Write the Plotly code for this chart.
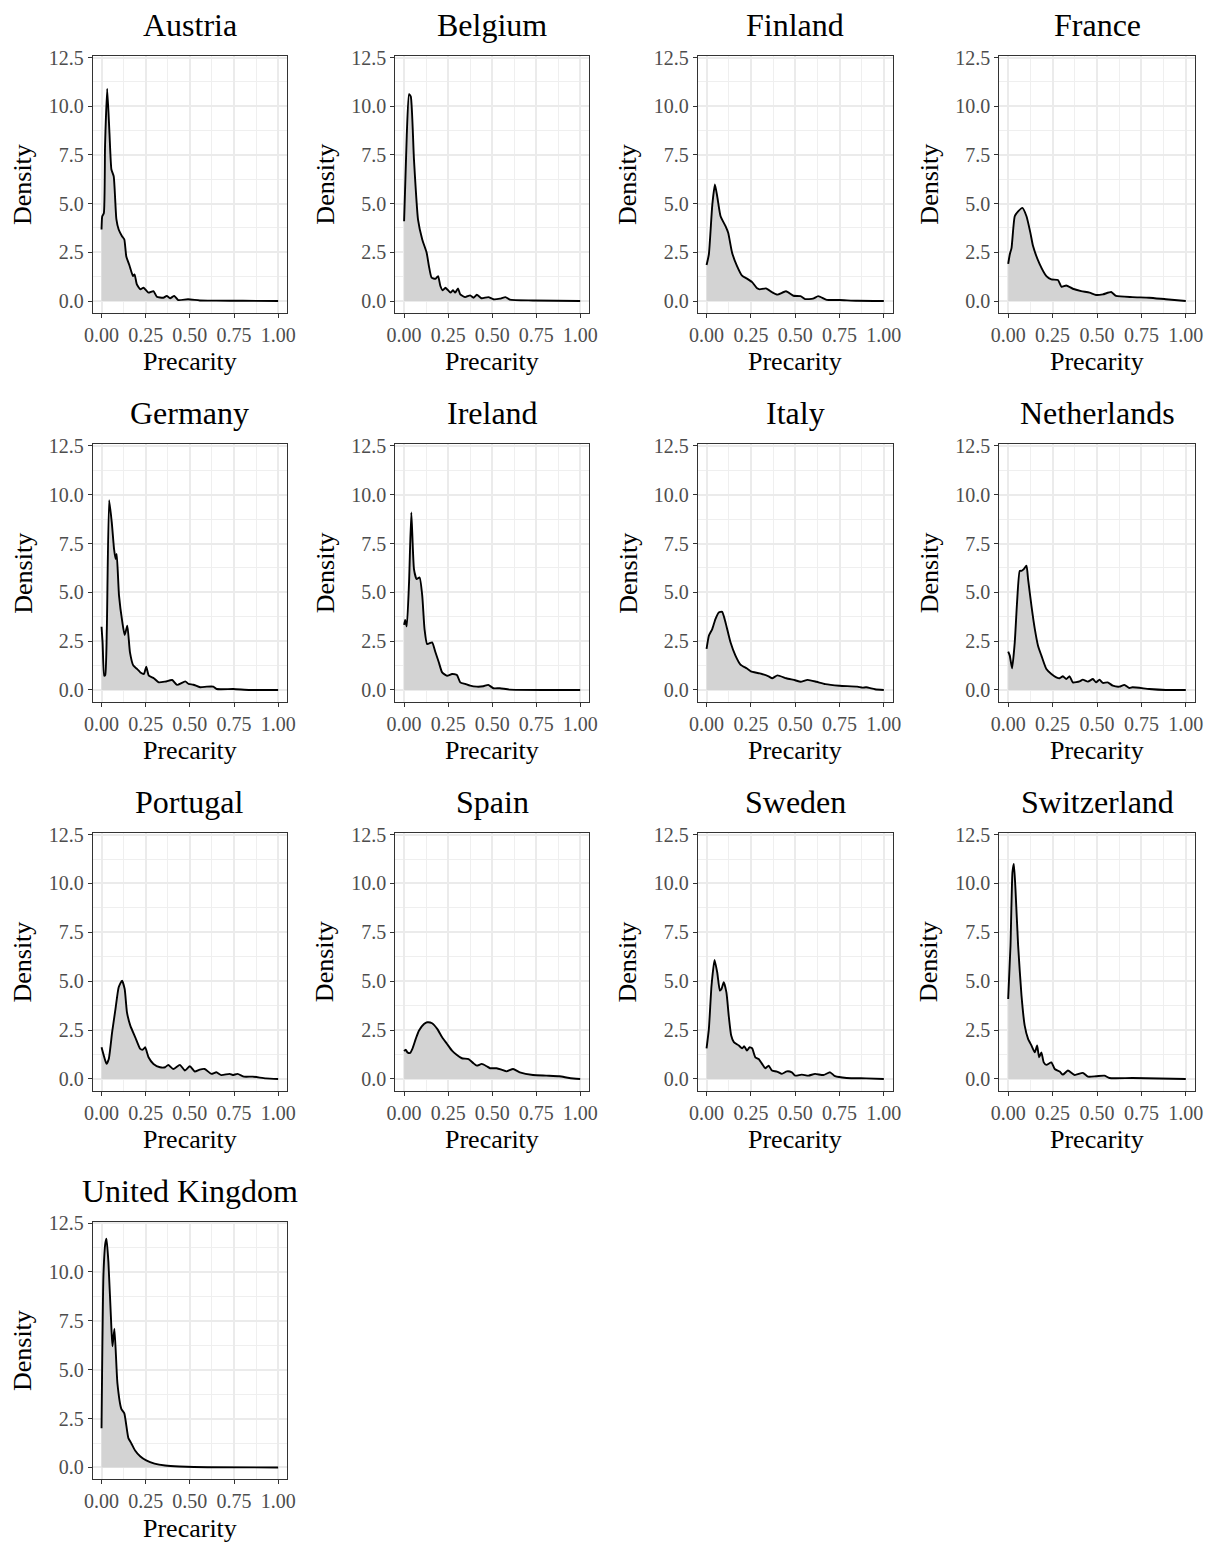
import plotly.graph_objects as go

COUNTRIES = ["Austria", "Belgium", "Finland", "France", "Germany", "Ireland", "Italy",
             "Netherlands", "Portugal", "Spain", "Sweden", "Switzerland", "United Kingdom"]

austria_x = [0.0, 0.004, 0.013, 0.020, 0.032, 0.045, 0.056, 0.069, 0.084, 0.097, 0.116, 0.129, 0.14, 0.159,
             0.178, 0.187, 0.2, 0.22, 0.238, 0.266, 0.294, 0.313, 0.35, 0.369, 0.388, 0.412, 0.434, 0.49,
             0.556, 0.65, 0.8, 1.0]
austria_y = [3.67, 4.35, 4.5, 8.0, 10.9, 8.6, 6.75, 6.4, 4.2, 3.67, 3.33, 3.16, 2.3, 1.8,
             1.28, 1.37, 0.85, 0.6, 0.68, 0.43, 0.51, 0.22, 0.17, 0.26, 0.14, 0.26, 0.05, 0.09,
             0.03, 0.02, 0.01, 0.0]

belgium_x = [0.0, 0.015, 0.028, 0.038, 0.056, 0.079, 0.103, 0.128, 0.141, 0.156, 0.178, 0.193, 0.206, 0.219,
             0.235, 0.263, 0.278, 0.29, 0.306, 0.319, 0.347, 0.375, 0.394, 0.413, 0.44, 0.478, 0.507,
             0.544, 0.576, 0.6, 0.73, 1.0]
belgium_y = [4.1, 8.5, 10.62, 10.5, 7.26, 4.18, 3.16, 2.48, 1.79, 1.2, 1.14, 1.28, 0.77, 0.55,
             0.68, 0.43, 0.55, 0.43, 0.65, 0.34, 0.2, 0.29, 0.17, 0.32, 0.14, 0.2, 0.09,
             0.12, 0.2, 0.07, 0.03, 0.0]

finland_x = [0.0, 0.013, 0.032, 0.047, 0.06, 0.079, 0.107, 0.122, 0.144, 0.172, 0.2, 0.228, 0.257, 0.285,
             0.3, 0.335, 0.37, 0.4, 0.448, 0.49, 0.53, 0.556, 0.6, 0.63, 0.678, 0.75, 0.85, 1.0]
finland_y = [1.85, 2.4, 4.9, 5.98, 5.38, 4.35, 3.84, 3.5, 2.48, 1.79, 1.3, 1.15, 0.97, 0.65,
             0.6, 0.65, 0.45, 0.33, 0.5, 0.27, 0.25, 0.1, 0.12, 0.25, 0.06, 0.05, 0.01, 0.0]

france_x = [0.0, 0.009, 0.019, 0.037, 0.056, 0.08, 0.103, 0.125, 0.14, 0.178, 0.215, 0.243, 0.28, 0.3,
            0.327, 0.364, 0.411, 0.458, 0.495, 0.533, 0.58, 0.607, 0.7, 0.794, 0.888, 1.0]
france_y = [1.91, 2.39, 2.73, 4.35, 4.6, 4.78, 4.35, 3.5, 2.82, 1.88, 1.28, 1.11, 1.08, 0.73,
            0.8, 0.63, 0.51, 0.43, 0.31, 0.34, 0.46, 0.26, 0.2, 0.17, 0.09, 0.0]

germany_x = [0.0, 0.006, 0.015, 0.021, 0.03, 0.043, 0.058, 0.071, 0.08, 0.086, 0.099, 0.118, 0.131, 0.146,
             0.161, 0.18, 0.202, 0.22, 0.24, 0.253, 0.268, 0.296, 0.324, 0.361, 0.4, 0.427, 0.474,
             0.493, 0.52, 0.558, 0.596, 0.633, 0.652, 0.745, 0.84, 1.0]
germany_y = [3.24, 2.44, 0.73, 0.77, 3.12, 9.72, 8.58, 7.21, 6.7, 6.96, 4.83, 3.46, 2.81, 3.29,
             1.93, 1.25, 1.07, 0.9, 0.82, 1.19, 0.73, 0.6, 0.39, 0.43, 0.51, 0.26, 0.44,
             0.31, 0.27, 0.14, 0.17, 0.17, 0.05, 0.05, 0.0, 0.0]

ireland_x = [0.0, 0.006, 0.015, 0.028, 0.041, 0.056, 0.071, 0.088, 0.103, 0.116, 0.131, 0.159, 0.178, 0.197,
             0.216, 0.244, 0.272, 0.3, 0.319, 0.347, 0.375, 0.413, 0.45, 0.478, 0.507, 0.544, 0.6, 1.0]
ireland_y = [3.33, 3.58, 3.26, 5.5, 9.09, 6.19, 5.68, 5.76, 4.83, 3.12, 2.35, 2.44, 1.93, 1.42,
             0.9, 0.73, 0.82, 0.77, 0.39, 0.31, 0.22, 0.17, 0.19, 0.26, 0.09, 0.09, 0.02, 0.0]

italy_x = [0.0, 0.013, 0.032, 0.05, 0.069, 0.088, 0.107, 0.135, 0.163, 0.191, 0.228, 0.25, 0.3, 0.35,
           0.37, 0.4, 0.45, 0.5, 0.53, 0.57, 0.62, 0.67, 0.75, 0.85, 0.88, 0.9, 0.95, 1.0]
italy_y = [2.1, 2.78, 3.12, 3.63, 3.97, 4.0, 3.46, 2.44, 1.76, 1.3, 1.1, 0.95, 0.85, 0.7,
           0.6, 0.75, 0.6, 0.5, 0.42, 0.52, 0.42, 0.3, 0.22, 0.17, 0.12, 0.14, 0.04, 0.0]

netherlands_x = [0.0, 0.009, 0.022, 0.037, 0.05, 0.065, 0.075, 0.088, 0.103, 0.112, 0.131, 0.15, 0.168, 0.187,
                 0.215, 0.243, 0.271, 0.29, 0.308, 0.327, 0.346, 0.364, 0.402, 0.42, 0.449, 0.477, 0.495,
                 0.514, 0.533, 0.56, 0.589, 0.626, 0.654, 0.682, 0.7, 0.794, 0.888, 1.0]
netherlands_y = [1.96, 1.76, 1.11, 2.44, 4.49, 6.1, 6.1, 6.19, 6.36, 5.68, 4.31, 3.12, 2.27, 1.76,
                 1.07, 0.82, 0.65, 0.6, 0.7, 0.56, 0.7, 0.39, 0.44, 0.53, 0.43, 0.56, 0.39,
                 0.53, 0.36, 0.39, 0.22, 0.17, 0.26, 0.1, 0.14, 0.05, 0.0, 0.0]

portugal_x = [0.0, 0.013, 0.028, 0.041, 0.06, 0.079, 0.097, 0.116, 0.131, 0.144, 0.163, 0.191, 0.219, 0.234,
              0.247, 0.266, 0.294, 0.331, 0.36, 0.378, 0.406, 0.444, 0.472, 0.5, 0.528, 0.556, 0.584,
              0.622, 0.65, 0.678, 0.725, 0.743, 0.77, 0.807, 0.856, 0.93, 1.0]
portugal_y = [1.62, 1.19, 0.77, 1.02, 2.39, 3.58, 4.69, 5.03, 4.6, 3.41, 2.73, 2.13, 1.54, 1.5,
              1.62, 1.11, 0.77, 0.6, 0.6, 0.72, 0.51, 0.72, 0.43, 0.65, 0.38, 0.48, 0.51,
              0.26, 0.34, 0.2, 0.26, 0.2, 0.26, 0.12, 0.12, 0.03, 0.0]

spain_x = [0.0, 0.009, 0.019, 0.034, 0.047, 0.066, 0.084, 0.113, 0.131, 0.159, 0.188, 0.216, 0.244, 0.272,
           0.3, 0.328, 0.366, 0.394, 0.413, 0.441, 0.469, 0.488, 0.525, 0.553, 0.582, 0.619, 0.657,
           0.732, 0.807, 0.882, 0.938, 1.0]
spain_y = [1.42, 1.5, 1.36, 1.33, 1.54, 2.05, 2.47, 2.81, 2.9, 2.85, 2.56, 2.13, 1.79, 1.45,
           1.23, 1.06, 1.02, 0.8, 0.68, 0.77, 0.65, 0.55, 0.55, 0.48, 0.39, 0.51, 0.34,
           0.2, 0.17, 0.14, 0.05, 0.0]

sweden_x = [0.0, 0.013, 0.028, 0.045, 0.06, 0.075, 0.084, 0.097, 0.112, 0.125, 0.139, 0.154, 0.182, 0.2,
            0.213, 0.228, 0.242, 0.257, 0.275, 0.294, 0.313, 0.331, 0.35, 0.369, 0.397, 0.425, 0.453,
            0.481, 0.5, 0.537, 0.575, 0.612, 0.659, 0.697, 0.725, 0.79, 0.9, 1.0]
sweden_y = [1.57, 2.56, 4.78, 6.09, 5.46, 4.52, 4.6, 4.95, 4.43, 3.24, 2.22, 1.88, 1.71, 1.57,
            1.67, 1.45, 1.62, 1.57, 1.11, 1.02, 0.77, 0.55, 0.68, 0.43, 0.38, 0.26, 0.39,
            0.34, 0.17, 0.22, 0.17, 0.26, 0.2, 0.34, 0.14, 0.05, 0.03, 0.0]

switzerland_x = [0.0, 0.013, 0.024, 0.032, 0.041, 0.056, 0.075, 0.093, 0.112, 0.131, 0.15, 0.163, 0.174, 0.187,
                 0.2, 0.215, 0.243, 0.262, 0.29, 0.308, 0.336, 0.374, 0.42, 0.449, 0.495, 0.542, 0.57,
                 0.7, 1.0]
switzerland_y = [4.09, 6.82, 10.57, 11.0, 9.72, 6.82, 4.26, 2.73, 2.05, 1.71, 1.36, 1.71, 1.11, 1.36,
                 0.85, 0.72, 0.85, 0.51, 0.38, 0.22, 0.43, 0.2, 0.31, 0.12, 0.14, 0.17, 0.05,
                 0.05, 0.0]

uk_x = [0.0, 0.011, 0.022, 0.028, 0.039, 0.056, 0.062, 0.073, 0.09, 0.112, 0.129, 0.152, 0.169, 0.19,
        0.22, 0.253, 0.3, 0.36, 0.44, 0.6, 1.0]
uk_y = [2.0, 9.9, 11.5, 11.7, 10.5, 7.1, 6.2, 7.1, 4.3, 3.0, 2.77, 1.5, 1.23, 0.87,
        0.56, 0.36, 0.2, 0.1, 0.05, 0.01, 0.0]

SERIES_X = [austria_x, belgium_x, finland_x, france_x, germany_x, ireland_x, italy_x,
            netherlands_x, portugal_x, spain_x, sweden_x, switzerland_x, uk_x]
SERIES_Y = [austria_y, belgium_y, finland_y, france_y, germany_y, ireland_y, italy_y,
            netherlands_y, portugal_y, spain_y, sweden_y, switzerland_y, uk_y]

X_TICKS = [0, 0.25, 0.5, 0.75, 1.0]
X_TICK_LABELS = ["0.00", "0.25", "0.50", "0.75", "1.00"]
Y_TICKS = [0, 2.5, 5, 7.5, 10, 12.5]
Y_TICK_LABELS = ["0.0", "2.5", "5.0", "7.5", "10.0", "12.5"]
X_TITLE = "Precarity"
Y_TITLE = "Density"

# ---- layout geometry (pixels) ----
W, H = 1217, 1542
COL_PX = [(92.7, 287.0), (395.3, 589.0), (697.7, 892.7), (999.3, 1194.7)]
ROW_PX = [(56.0, 312.7), (444.3, 701.7), (833.0, 1090.7), (1221.5, 1479.2)]

FONT = "Liberation Serif"
fig = go.Figure()
layout = dict(
    template="none",
    width=W, height=H, autosize=False,
    margin=dict(l=0, r=0, t=0, b=0, pad=0, autoexpand=False),
    paper_bgcolor="white", plot_bgcolor="white", showlegend=False,
    font=dict(family=FONT, color="black"),
)
annotations = []

for i, name in enumerate(COUNTRIES):
    r, c = divmod(i, 4)
    x0, x1 = COL_PX[c]
    y0, y1 = ROW_PX[r]
    xd = [x0 / W, x1 / W]
    yd = [1 - y1 / H, 1 - y0 / H]
    k = "" if i == 0 else str(i + 1)
    xa, ya = "xaxis" + k, "yaxis" + k
    common = dict(
        automargin=False,
        showline=True, mirror=True, linecolor="#333333", linewidth=1.1,
        ticks="outside", ticklen=4, tickwidth=1.1, tickcolor="#333333",
        showgrid=True, gridcolor="#EBEBEB", gridwidth=1.6, zeroline=False,
        tickfont=dict(family=FONT, size=20, color="#4D4D4D"),
    )
    layout[xa] = dict(common, domain=xd, anchor="y" + k, range=[-0.05, 1.05],
                      tickmode="array", tickvals=X_TICKS, ticktext=X_TICK_LABELS,
                      minor=dict(tick0=0, dtick=0.125, showgrid=True, gridcolor="#EFEFEF", gridwidth=0.8, ticks=""))
    layout[ya] = dict(common, domain=yd, anchor="x" + k, range=[-0.6, 12.58],
                      tickmode="array", tickvals=Y_TICKS, ticktext=Y_TICK_LABELS,
                      minor=dict(tick0=0, dtick=1.25, showgrid=True, gridcolor="#EFEFEF", gridwidth=0.8, ticks=""))
    fig.add_trace(go.Scatter(
        x=SERIES_X[i], y=SERIES_Y[i], mode="lines", fill="tozeroy",
        fillcolor="#D3D3D3", line=dict(color="black", width=1.9, shape="spline", smoothing=0.5),
        xaxis="x" + k, yaxis="y" + k, hoverinfo="skip"))
    cx = (xd[0] + xd[1]) / 2
    annotations.append(dict(text=name, x=cx, y=yd[1], xref="paper", yref="paper",
                            xanchor="center", yanchor="middle", yshift=31, showarrow=False,
                            font=dict(family=FONT, size=32, color="black")))
    annotations.append(dict(text=X_TITLE, x=cx, y=yd[0], xref="paper", yref="paper",
                            xanchor="center", yanchor="middle", yshift=-49, showarrow=False,
                            font=dict(family=FONT, size=26, color="black")))
    annotations.append(dict(text=Y_TITLE, x=xd[0], y=(yd[0] + yd[1]) / 2, xref="paper", yref="paper",
                            xanchor="center", yanchor="middle", xshift=-70, textangle=-90, showarrow=False,
                            font=dict(family=FONT, size=26, color="black")))

layout["annotations"] = annotations
fig.update_layout(**layout)
fig.write_html("out.html")
